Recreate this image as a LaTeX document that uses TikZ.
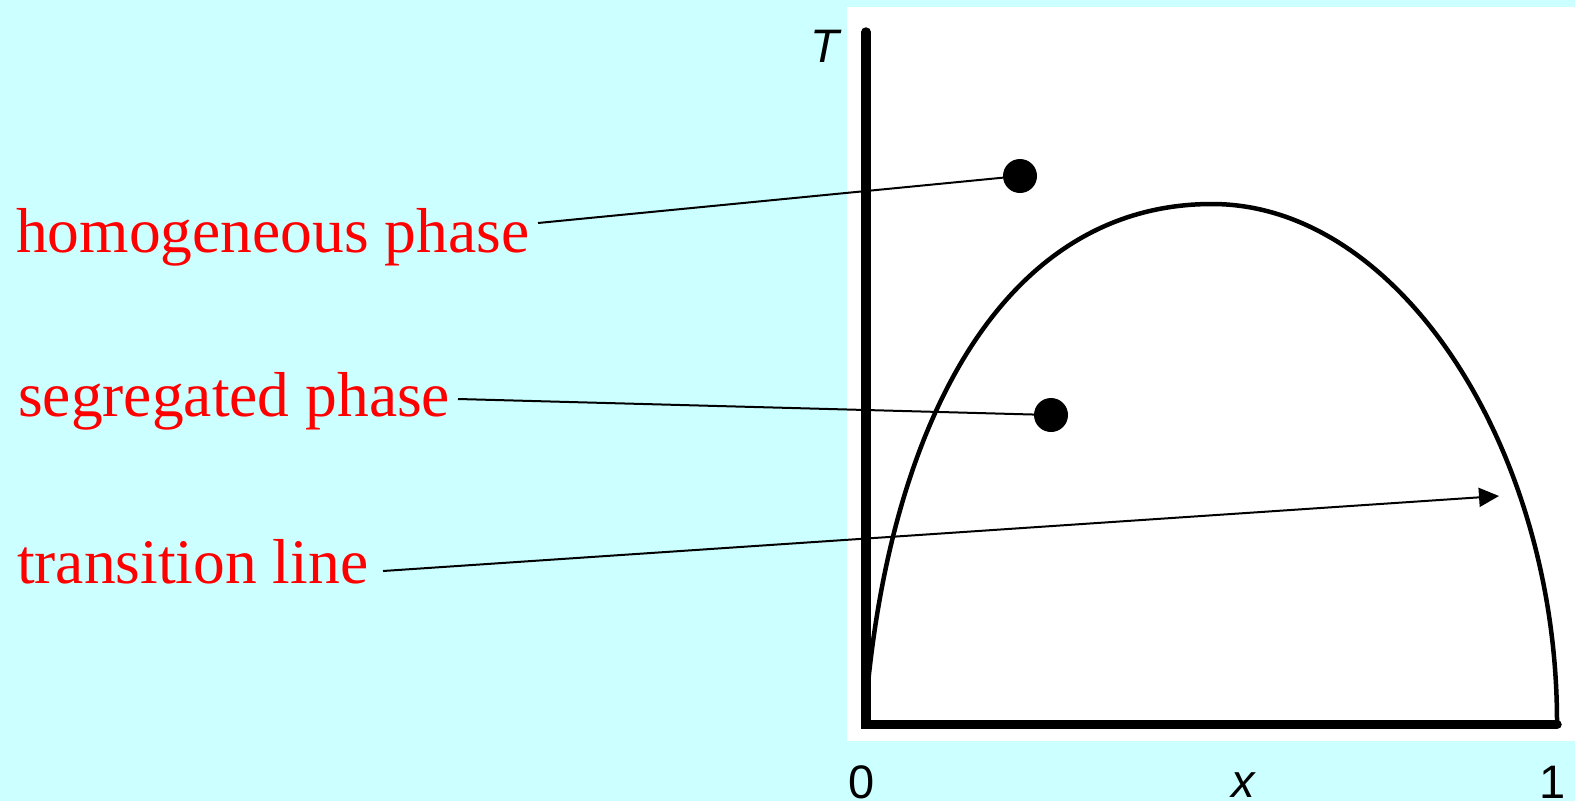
\documentclass[tikz,border=0pt]{standalone}
\usepackage{fontspec}
\setmainfont{Liberation Serif}
\setsansfont{Liberation Sans}
\usetikzlibrary{arrows.meta}
\definecolor{bgcyan}{RGB}{204,255,255}
\tikzset{
  lab/.style={text=red, font=\fontsize{63.5}{70}\selectfont, inner sep=0pt, anchor=base west},
  axlab/.style={font=\sffamily\fontsize{47}{50}\selectfont, inner sep=0pt, anchor=base},
  dot/.style={circle, fill=black, minimum size=34pt, inner sep=0pt},
  conn/.style={line width=2pt},
  axis/.style={line width=9.5pt, line cap=round, line join=miter},
  curve/.style={line width=4.5pt, line cap=round}
}
\begin{document}
\begin{tikzpicture}[x=1pt, y=-1pt]
\useasboundingbox (0,0) rectangle (1575,801);
\fill[bgcyan] (0,0) rectangle (1575,801);
\fill[white] (847,7) rectangle (1575,741);
% curve
\draw[curve] (866,705) .. controls (890,420) and (1005,204) .. (1212,204)
  .. controls (1400,204) and (1557,450) .. (1557,722);
% axes
\coordinate (ytop) at (866,32);
\coordinate (orig) at (866,724.5);
\coordinate (xend) at (1557,724.5);
\draw[axis] (ytop) -- (orig) -- (xend);
\node[axlab] (T) at (825,62) {\itshape T};
\node[axlab] (zero) at (862,798) {0};
\node[axlab] (one) at (1553,798) {1};
\node[axlab] (xl) at (1243,797) {\itshape x};
% labels
\node[lab] (hlab) at (16,252) {homogeneous phase};
\node[lab] (slab) at (18,416) {segregated phase};
\node[lab] (tlab) at (17,583) {transition line};
% dots
\node[dot] (hdot) at (1020,176) {};
\node[dot] (sdot) at (1051,415) {};
% connectors
\coordinate (hs) at (538,223);
\coordinate (ss) at (458,399);
\coordinate (ts) at (383,571);
\coordinate (ttip) at (1499,496);
\draw[conn] (hs) -- (hdot);
\draw[conn] (ss) -- (sdot);
\draw[conn, -{Triangle[length=20pt,width=19pt]}] (ts) -- (ttip);
\end{tikzpicture}
\end{document}
